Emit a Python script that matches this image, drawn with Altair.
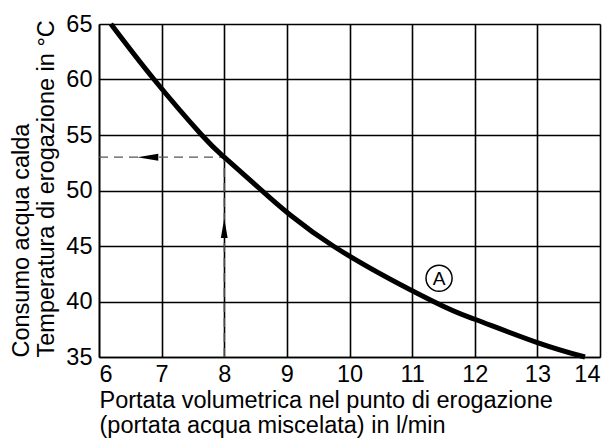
import altair as alt
import pandas as pd

# Curve A
flow = [6.19, 6.88, 7.64, 8.0, 8.6, 9.74, 11.34, 12.0, 13.0, 13.76]
temp = [65.0, 60.0, 55.0, 53.0, 50.0, 45.0, 40.0, 38.4, 36.3, 35.0]

# Reading example (dashed guide lines)
guide_x = [8.0, 6.0]
guide_x2 = [8.0, 8.0]
guide_y = [35.0, 53.0]
guide_y2 = [53.0, 53.0]

x_ticks = [6, 7, 8, 9, 10, 11, 12, 13, 14]
y_ticks = [35, 40, 45, 50, 55, 60, 65]

label_txt = ["A"]
label_x = [11.43]
label_y = [42.1]

curve_df = pd.DataFrame({"x": flow, "y": temp})
guide_df = pd.DataFrame({"x": guide_x, "x2": guide_x2, "y": guide_y, "y2": guide_y2})
up_df = pd.DataFrame({"x": [8.0], "y": [46.6]})
left_df = pd.DataFrame({"x": [6.78], "y": [53.0]})
lab_df = pd.DataFrame({"x": label_x, "y": label_y, "t": label_txt})

FONT = "Liberation Sans"
FS = 23.5

xs = alt.Scale(domain=[6, 14], nice=False, zero=False)
ys = alt.Scale(domain=[35, 65], nice=False, zero=False)

xaxis = alt.Axis(
    values=x_ticks, format="d", grid=True, gridColor="black", gridWidth=1.6, gridOpacity=1,
    domainColor="black", domainWidth=1.6, ticks=False, labelPadding=5,
    labelFontSize=FS, labelFont=FONT, labelColor="black",
    title=["Portata volumetrica nel punto di erogazione", "(portata acqua miscelata) in l/min"],
    titleFont=FONT, titleFontSize=FS, titleFontWeight="normal", titleColor="black",
    titleAlign="left", titleBaseline="top", titleX=0, titleY=31, titleLineHeight=25,
)
yaxis = alt.Axis(
    values=y_ticks, format="d", grid=True, gridColor="black", gridWidth=1.6, gridOpacity=1,
    domainColor="black", domainWidth=1.6, ticks=False, labelPadding=7,
    labelFontSize=FS, labelFont=FONT, labelColor="black",
    title=["Consumo acqua calda", "Temperatura di erogazione in °C"],
    titleFont=FONT, titleFontSize=FS, titleFontWeight="normal", titleColor="black",
    titleAlign="left", titleBaseline="top", titleAngle=270, titleX=-90, titleY=333,
    titleLineHeight=25,
)

enc_x = alt.X("x:Q", scale=xs, axis=xaxis)
enc_y = alt.Y("y:Q", scale=ys, axis=yaxis)

guides = alt.Chart(guide_df).mark_rule(color="#555555", strokeWidth=1.3, strokeDash=[9, 6]).encode(
    x=enc_x, x2="x2:Q", y=enc_y, y2="y2:Q",
)

curve = alt.Chart(curve_df).mark_line(color="black", strokeWidth=5, interpolate="natural").encode(
    x=enc_x, y=enc_y
)

up_arrow = alt.Chart(up_df).mark_point(
    shape="M 0 -1 L 0.35 1 L -0.35 1 Z", filled=True, color="black", opacity=1, size=380
).encode(x=enc_x, y=enc_y)

left_arrow = alt.Chart(left_df).mark_point(
    shape="M -1 0 L 1 -0.33 L 1 0.33 Z", filled=True, color="black", opacity=1, size=440
).encode(x=enc_x, y=enc_y)

circ = alt.Chart(lab_df).mark_point(
    shape="circle", filled=False, color="black", strokeWidth=1.5, size=680, opacity=1
).encode(x=enc_x, y=enc_y)

txt = alt.Chart(lab_df).mark_text(font=FONT, fontSize=19, color="black", baseline="middle", align="center", dy=1).encode(
    x=enc_x, y=enc_y, text="t:N"
)

chart = alt.layer(guides, curve, up_arrow, left_arrow, circ, txt).properties(
    width=501, height=333,
    autosize=alt.AutoSizeParams(type="none"),
    padding={"left": 91, "top": 16, "right": 6, "bottom": 82},
).configure_view(stroke="black", strokeWidth=1.6).configure(background="white")

chart.save("out.html", embed_options={"renderer": "svg", "actions": False})
